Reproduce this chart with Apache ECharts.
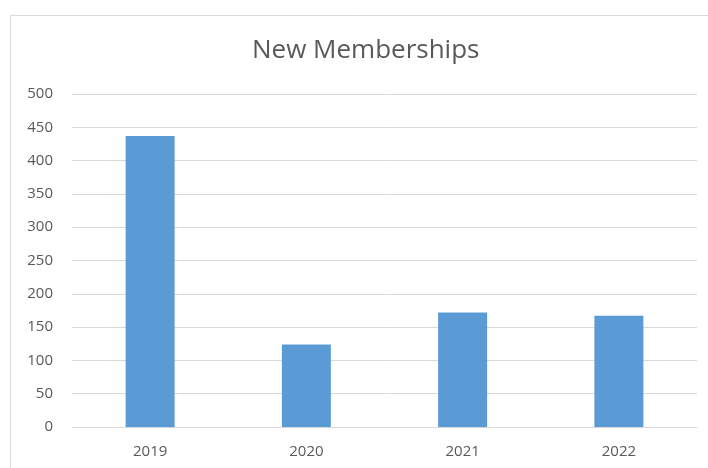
<!DOCTYPE html>
<html>
<head>
<meta charset="utf-8">
<script src="https://cdn.jsdelivr.net/npm/echarts@6/dist/echarts.min.js"></script>
<style>
html,body{margin:0;padding:0;background:#fff;}
#chart{width:708px;height:468px;}
</style>
</head>
<body>
<div id="chart"></div>
<script>
const categories = ['2019', '2020', '2021', '2022'];
const memberships = [437, 124, 172, 167];
const titleText = 'New Memberships';

const chart = echarts.init(document.getElementById('chart'), null, {renderer: 'canvas'});
chart.setOption({
  animation: false,
  backgroundColor: '#ffffff',
  title: {
    text: titleText,
    left: 247,
    top: 33,
    textStyle: {fontFamily: 'Open Sans', fontWeight: 'normal', fontSize: 26, color: '#595959'}
  },
  graphic: [{
    type: 'polyline',
    shape: {points: [[10.5, 480], [10.5, 15.5], [720, 15.5]]},
    style: {stroke: '#d9d9d9', lineWidth: 1, fill: null},
    silent: true
  }],
  grid: {left: 72, right: 11, top: 94, bottom: 41, containLabel: false},
  xAxis: {
    type: 'category',
    data: categories,
    axisLine: {show: true, lineStyle: {color: '#d9d9d9', width: 1}},
    axisTick: {show: false},
    axisLabel: {color: '#595959', fontSize: 15, fontFamily: 'Open Sans', margin: 17}
  },
  yAxis: {
    type: 'value',
    min: 0, max: 500, interval: 50,
    axisLine: {show: false},
    axisTick: {show: false},
    axisLabel: {color: '#595959', fontSize: 15, fontFamily: 'Open Sans', margin: 19},
    splitLine: {lineStyle: {color: '#d9d9d9', width: 1}}
  },
  series: [{
    type: 'bar',
    data: memberships,
    barWidth: 49,
    itemStyle: {color: '#5b9bd5'}
  }]
});
</script>
</body>
</html>
